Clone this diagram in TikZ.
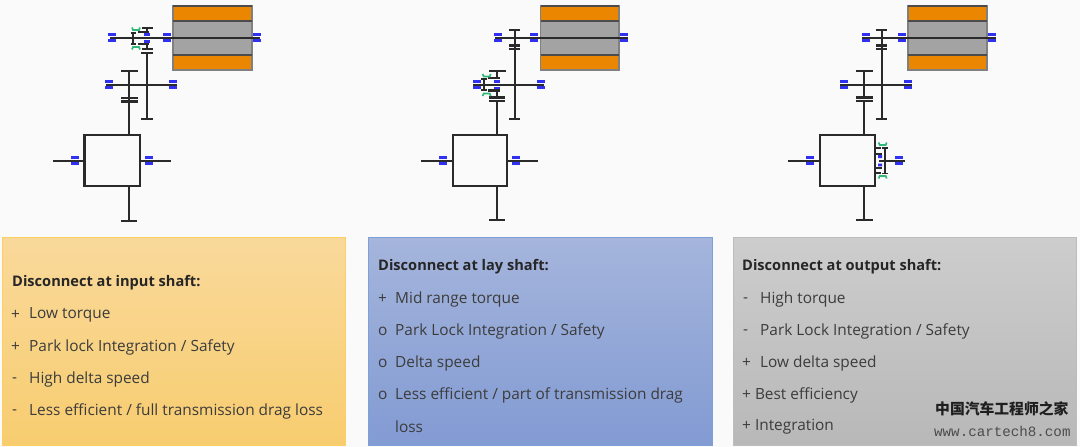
\documentclass[tikz,border=0pt]{standalone}
\usepackage{fontspec}
\setmainfont{Open Sans}
\newfontfamily\cjkf{Noto Sans CJK SC}
\newfontfamily\wmono{Liberation Mono}
\usetikzlibrary{calc}
\definecolor{pagebg}{HTML}{FAFAFA}
\definecolor{motor}{HTML}{EA8600}
\definecolor{statorgray}{HTML}{A3A3A3}
\definecolor{brg}{HTML}{3030F0}
\definecolor{clutchgreen}{HTML}{30B878}
\definecolor{ink}{HTML}{2A2A2A}
\definecolor{txt}{HTML}{3C3C3C}
\definecolor{otop}{HTML}{F9D99B}
\definecolor{obot}{HTML}{F8CD70}
\definecolor{oedge}{HTML}{FBD060}
\definecolor{btop}{HTML}{A5B5DC}
\definecolor{bbot}{HTML}{829BD3}
\definecolor{bedge}{HTML}{7F9FD8}
\definecolor{gtop}{HTML}{CDCDCD}
\definecolor{gbot}{HTML}{B8B8B8}
\definecolor{gedge}{HTML}{BDBDBD}
\tikzset{
 x=1pt,y=-1pt,
 thin line/.style={ink,line width=1.8pt},
 thick line/.style={ink,line width=2.3pt},
 head/.style={anchor=west,inner sep=0pt,font=\fontsize{14.6}{17}\selectfont\bfseries,text=black!85},
 item/.style={anchor=west,inner sep=0pt,font=\fontsize{15.4}{18}\selectfont,text=txt},
}
\newcommand{\brgpair}[2]{%
 \fill[brg] (#1-4,#2-4.5) rectangle (#1+4,#2-1.7);
 \fill[brg] (#1-4,#2+1.7) rectangle (#1+4,#2+4.5);}
\newcommand{\smallbrg}[2]{%
 \fill[brg] (#1-3,#2-5) rectangle (#1+3,#2-2);
 \fill[brg] (#1-3,#2+2) rectangle (#1+3,#2+5);}
\newcommand{\hgreen}[2]{%
 \draw[clutchgreen,line width=1.7pt] (#1-4,#2-2.5) -- (#1-3,#2) -- (#1+3,#2) -- (#1+4,#2-2.5);}
\newcommand{\hgreenb}[2]{%
 \draw[clutchgreen,line width=1.7pt] (#1-4,#2+2.5) -- (#1-3,#2) -- (#1+3,#2) -- (#1+4,#2+2.5);}
\newcommand{\motorblock}[2]{%
 \fill[motor] (#1,6) rectangle (#2,21);
 \fill[statorgray] (#1,21) rectangle (#2,55);
 \fill[motor] (#1,55) rectangle (#2,70);
 \draw[gray,line width=1.2pt] (#1,6) rectangle (#2,70);
 \draw[black!70,line width=1.2pt] (#1,6) -- (#2,6) (#1,21) -- (#2,21) (#1,55) -- (#2,55);}
\begin{document}
\begin{tikzpicture}
\useasboundingbox (0,0) rectangle (1080,447);
\fill[pagebg] (0,0) rectangle (1080,447);

% ---------- panels
\shade[top color=otop,bottom color=obot] (2,237) rectangle (345,445);
\draw[oedge,line width=1pt] (2,237) rectangle (345,445);
\shade[top color=btop,bottom color=bbot] (368,237) rectangle (712,445);
\draw[bedge,line width=1pt] (368,237) rectangle (712,445);
\shade[top color=gtop,bottom color=gbot] (733,237) rectangle (1076.5,445);
\draw[gedge,line width=1pt] (733,237) rectangle (1076.5,445);

% ---------- train 1
\motorblock{173}{252}
\draw[thick line] (110,37.7) -- (260,37.7);
\brgpair{112}{37.7}\brgpair{167}{37.7}\brgpair{257}{37.7}\smallbrg{147}{37.7}
\draw[thin line] (106,84.7) -- (177,84.7);
\brgpair{109}{84.7}\brgpair{173}{84.7}
\draw[thin line] (129,71) -- (129,135);
\draw[thin line] (121,71) -- (138,71);
\draw[thick line] (121,98) -- (138,98) (121,101.5) -- (138,101.5);
\draw[thick line] (147,53) -- (147,119);
\draw[thin line] (141,53) -- (153,53) (141,119) -- (153,119);
\draw[thin line] (147,28) -- (147,32) (142,28) -- (153,28) (138,32) -- (149,32);
\draw[thin line] (147,44) -- (147,48.7) (142,48.7) -- (153,48.7) (138,44) -- (149,44);
\draw[thick line] (133,32.7) -- (133,44);
\draw[thin line] (131,32.7) -- (136,32.7) (131,44) -- (136,44);
\hgreen{136}{30}\hgreenb{136}{47}
\draw[thick line,fill=pagebg] (84.5,135) rectangle (140,186);
\draw[thin line] (53,160.7) -- (84.5,160.7) (140,160.7) -- (171,160.7);
\brgpair{75}{160.7}\brgpair{149}{160.7}
\draw[thin line] (129,186) -- (129,221) (121,221) -- (137,221);

% ---------- train 2
\motorblock{540.5}{619}
\draw[thick line] (495,37.7) -- (628,37.7);
\brgpair{498}{37.7}\brgpair{534}{37.7}\brgpair{624}{37.7}
\draw[thin line] (515,30) -- (515,119) (509,30) -- (520,30) (509,119) -- (520,119);
\draw[thick line] (509,45.5) -- (520,45.5) (509,49) -- (520,49);
\draw[thin line] (473,84.7) -- (544,84.7);
\brgpair{477}{84.7}\brgpair{541}{84.7}\smallbrg{497}{84.7}
\draw[thin line] (489,70.7) -- (506,70.7) (497,70.7) -- (497,78);
\draw[thick line] (488,78) -- (500,78) (488,90.5) -- (500,90.5);
\draw[thin line] (497,90.5) -- (497,97);
\draw[thick line] (484,79) -- (484,90);
\draw[thin line] (481,79) -- (487,79) (481,90) -- (487,90);
\draw[thick line] (489,97.5) -- (505,97.5) (489,101) -- (505,101);
\draw[thick line] (497,101) -- (497,135);
\hgreen{486.7}{76.5}\hgreenb{486.7}{93.5}
\draw[thick line,fill=pagebg] (452.7,135) rectangle (507,186);
\draw[thin line] (421,160.7) -- (452.7,160.7) (507,160.7) -- (537.7,160.7);
\brgpair{443}{160.7}\brgpair{516}{160.7}
\draw[thin line] (497,186) -- (497,220) (489,220) -- (505,220);

% ---------- train 3
\motorblock{908}{987}
\draw[thick line] (862,37.7) -- (996,37.7);
\brgpair{866}{37.7}\brgpair{902}{37.7}\brgpair{992}{37.7}
\draw[thin line] (882,30) -- (882,50) (876,30) -- (887,30);
\draw[thick line] (882,50) -- (882,119) (876,45.5) -- (887,45.5) (876,49) -- (887,49);
\draw[thin line] (876,119) -- (887,119);
\draw[thin line] (840,84.7) -- (912,84.7);
\brgpair{844}{84.7}\brgpair{908}{84.7}
\draw[thin line] (864,71) -- (864,97) (856,71) -- (873,71);
\draw[thick line] (856,97.5) -- (873,97.5) (856,101) -- (873,101);
\draw[thick line] (864,101) -- (864,135);
\draw[thick line,fill=pagebg] (819.7,135) rectangle (875,186);
\draw[thin line] (788,160.7) -- (819.7,160.7);
\brgpair{810}{160.7}
\draw[thin line] (864,186) -- (864,220) (856,220) -- (873,220);
\draw[thin line] (879,160.7) -- (905,160.7);
\brgpair{899}{160.7}
\draw[thick line] (885,148) -- (885,173.5);
\draw[thin line] (882,148) -- (888,148) (882,173.5) -- (888,173.5);
\draw[thin line] (875,147.7) -- (881,147.7) (875,153.7) -- (882,153.7) (875,168) -- (882,168) (875,173.3) -- (881,173.3);
\fill[brg] (878,155.2) rectangle (882,158) (878,163.5) rectangle (882,166.3);
\hgreen{882.7}{145}\hgreenb{882.7}{176}

% ---------- panel texts
\begin{scope}[yshift=-2pt]
\node[head] (h1) at (12,281) {Disconnect at input shaft:};
\node[item] (a1) at (11,313) {+}; \node[item] (a1t) at (29,313) {Low torque};
\node[item] (a2) at (11,345) {+}; \node[item] (a2t) at (29,345) {Park lock Integration / Safety};
\node[item] (a3) at (12,378) {-}; \node[item] (a3t) at (29,377) {High delta speed};
\node[item] (a4) at (12,410) {-}; \node[item] (a4t) at (29,409) {Less efficient / full transmission drag loss};

\node[head] (h2) at (378,265) {Disconnect at lay shaft:};
\node[item] (b1) at (378,297) {+}; \node[item] (b1t) at (395,297) {Mid range torque};
\node[item] (b2) at (378,329) {o}; \node[item] (b2t) at (395,329) {Park Lock Integration / Safety};
\node[item] (b3) at (378,361) {o}; \node[item] (b3t) at (395,361) {Delta speed};
\node[item] (b4) at (378,393) {o}; \node[item] (b4t) at (395,393) {Less efficient / part of transmission drag};
\node[item] (b5) at (395,425) {loss};

\node[head] (h3) at (742,265) {Disconnect at output shaft:};
\node[item] (c1) at (743,298) {-}; \node[item] (c1t) at (760,297) {High torque};
\node[item] (c2) at (743,330) {-}; \node[item] (c2t) at (760,329) {Park Lock Integration / Safety};
\node[item] (c3) at (742,361) {+}; \node[item] (c3t) at (760,361) {Low delta speed};
\node[item] (c4) at (742,393) {+ Best efficiency};
\node[item] (c5) at (742,425) {+ Integration};
\end{scope}

% ---------- watermark
\node[anchor=west,inner sep=0pt,font=\cjkf\fontsize{14.8}{17}\selectfont\bfseries,text=black!88] (w1) at (935,409) {中国汽车工程师之家};
\node[anchor=west,inner sep=0pt,font=\wmono\fontsize{14.2}{16}\selectfont,text=black!70] (w2) at (934,431) {www.cartech8.com};
\end{tikzpicture}
\end{document}
